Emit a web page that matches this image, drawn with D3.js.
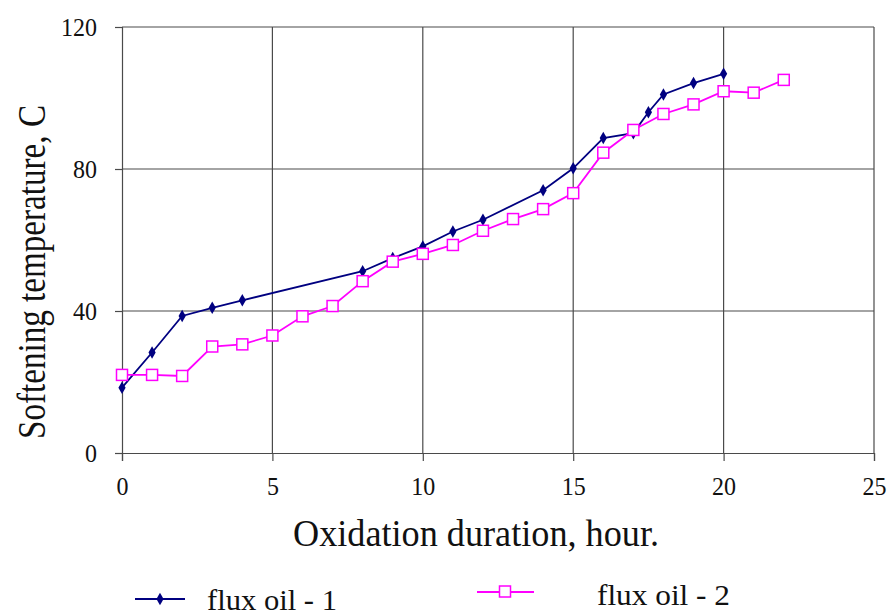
<!DOCTYPE html>
<html>
<head>
<meta charset="utf-8">
<script src="https://cdn.jsdelivr.net/npm/d3@7"></script>
<style>
  html, body { margin: 0; padding: 0; background: #fff; }
</style>
</head>
<body>
<svg id="chart" width="888" height="612"></svg>
<script>
// Softening temperature vs oxidation duration for two flux oils
const hours1 = [0, 1, 2, 3, 4, 8, 9, 10, 11, 12, 14, 15, 16, 17, 17.5, 18, 19, 20];
const temp1  = [18.4, 28.3, 38.6, 40.9, 43.0, 51.2, 54.9, 58.2, 62.4, 65.7, 74.0, 80.2, 88.7, 90.1, 96.0, 101.0, 104.2, 106.8];
const hours2 = [0, 1, 2, 3, 4, 5, 6, 7, 8, 9, 10, 11, 12, 13, 14, 15, 16, 17, 18, 19, 20, 21, 22];
const temp2  = [22.0, 22.0, 21.7, 30.0, 30.6, 33.1, 38.5, 41.4, 48.4, 53.9, 56.1, 58.6, 62.6, 65.9, 68.7, 73.2, 84.6, 91.0, 95.5, 98.2, 101.9, 101.5, 105.1];
const xTicks = [0, 5, 10, 15, 20, 25];
const yTicks = [0, 40, 80, 120];
const seriesNames = ["flux oil - 1", "flux oil - 2"];

const FONT = '"Liberation Serif"';
const INK = "#111";
const svg = d3.select("#chart");
const plot = { left: 122, right: 874, top: 27, bottom: 453 };

const x = d3.scaleLinear().domain([0, 25]).range([plot.left, plot.right]);
const y = d3.scaleLinear().domain([0, 120]).range([plot.bottom, plot.top]);

const gridColor = "#4a4a4a";

// serif text with its run length fixed via textLength
function condensed(sel, size, length) {
  sel.style("font-family", FONT).style("font-size", size + "px")
    .attr("textLength", length).attr("lengthAdjust", "spacingAndGlyphs")
    .attr("fill", INK);
}

// Grid lines
svg.append("g").selectAll("line").data(xTicks.filter(d => d > 0)).join("line")
  .attr("x1", d => x(d)).attr("x2", d => x(d))
  .attr("y1", plot.top).attr("y2", plot.bottom)
  .attr("stroke", gridColor).attr("stroke-width", 1.2);
svg.append("g").selectAll("line").data(yTicks.filter(d => d > 0)).join("line")
  .attr("x1", plot.left).attr("x2", plot.right)
  .attr("y1", d => y(d)).attr("y2", d => y(d))
  .attr("stroke", gridColor).attr("stroke-width", 1.2);

// Axes
const xAxis = d3.axisBottom(x).tickValues(xTicks).tickSize(8).tickPadding(16).tickFormat(d3.format("d"));
const yAxis = d3.axisLeft(y).tickValues(yTicks).tickSize(7).tickPadding(18).tickFormat(d3.format("d"));

const gx = svg.append("g").attr("transform", `translate(0,${plot.bottom})`).call(xAxis);
const gy = svg.append("g").attr("transform", `translate(${plot.left},0)`).call(yAxis);
[gx, gy].forEach(g => {
  g.select(".domain").attr("stroke", gridColor).attr("stroke-width", 1.2);
  g.selectAll(".tick line").attr("stroke", gridColor).attr("stroke-width", 1.2);
  g.selectAll(".tick text").each(function (d) {
    condensed(d3.select(this), 26, String(d).length * 12);
  });
});

// Axis titles
svg.append("text")
  .attr("x", 476).attr("y", 546)
  .attr("text-anchor", "middle")
  .call(condensed, 38, 366)
  .text("Oxidation duration, hour.");
svg.append("text")
  .attr("transform", "translate(45,272) rotate(-90)")
  .attr("text-anchor", "middle")
  .call(condensed, 40, 334)
  .text("Softening temperature, C");

// Series
const line = d3.line().x(d => x(d[0])).y(d => y(d[1]));
const data1 = hours1.map((h, i) => [h, temp1[i]]);
const data2 = hours2.map((h, i) => [h, temp2[i]]);

svg.append("path").datum(data1).attr("d", line)
  .attr("fill", "none").attr("stroke", "#000080").attr("stroke-width", 1.8);
svg.append("path").datum(data2).attr("d", line)
  .attr("fill", "none").attr("stroke", "#ff00ff").attr("stroke-width", 1.8);

const diamond = d3.symbol().type(d3.symbolDiamond).size(45);
svg.append("g").selectAll("path").data(data1).join("path")
  .attr("transform", d => `translate(${x(d[0])},${y(d[1])})`)
  .attr("d", diamond).attr("fill", "#000080");

svg.append("g").selectAll("rect").data(data2).join("rect")
  .attr("x", d => x(d[0]) - 5.5).attr("y", d => y(d[1]) - 5.5)
  .attr("width", 11).attr("height", 11)
  .attr("fill", "#fff").attr("stroke", "#ff00ff").attr("stroke-width", 1.5);

// Legend
const lg = svg.append("g");
lg.append("line").attr("x1", 135).attr("x2", 185).attr("y1", 599).attr("y2", 599)
  .attr("stroke", "#000080").attr("stroke-width", 2);
lg.append("path").attr("transform", "translate(160,599)").attr("d", diamond).attr("fill", "#000080");
lg.append("text").attr("x", 207).attr("y", 610)
  .call(condensed, 29, 130).text(seriesNames[0]);

lg.append("line").attr("x1", 477).attr("x2", 534).attr("y1", 592).attr("y2", 592)
  .attr("stroke", "#ff00ff").attr("stroke-width", 2);
lg.append("rect").attr("x", 499.5).attr("y", 586).attr("width", 11).attr("height", 11)
  .attr("fill", "#fff").attr("stroke", "#ff00ff").attr("stroke-width", 1.5);
lg.append("text").attr("x", 597).attr("y", 605)
  .call(condensed, 29, 133).text(seriesNames[1]);
</script>
</body>
</html>
